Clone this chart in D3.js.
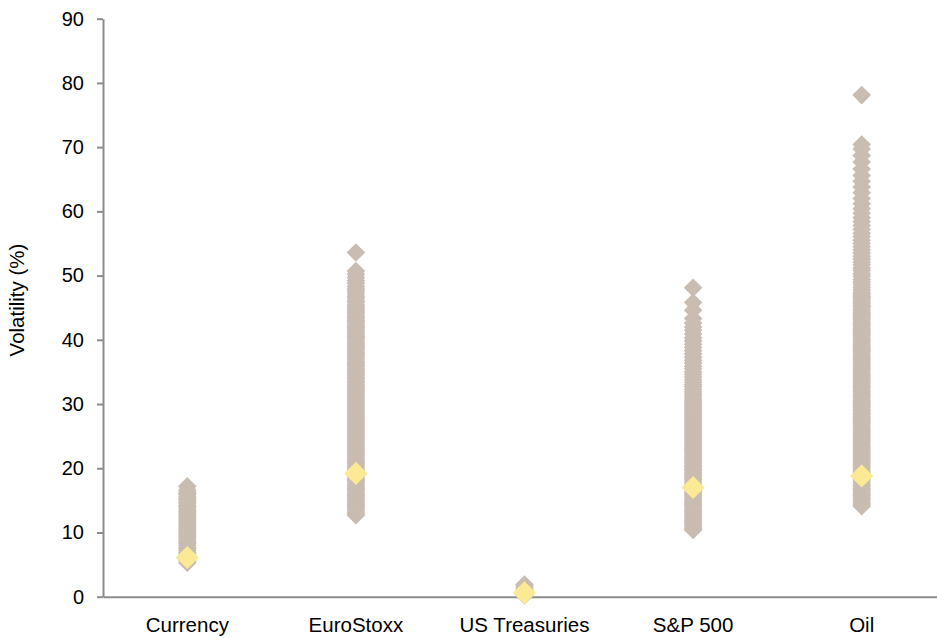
<!DOCTYPE html>
<html>
<head>
<meta charset="utf-8">
<script src="https://cdn.jsdelivr.net/npm/d3@7/dist/d3.min.js"></script>
<style>
  html, body { margin: 0; padding: 0; background: #fff; }
  svg { display: block; }
  text { font-family: "Liberation Sans", Arial, sans-serif; fill: #000; }
</style>
</head>
<body>
<svg id="chart" width="937" height="638"></svg>
<script>
const categories = ["Currency", "EuroStoxx", "US Treasuries", "S&P 500", "Oil"];
const yTicks = [0, 10, 20, 30, 40, 50, 60, 70, 80, 90];
const yLabel = "Volatility (%)";

// observed volatility readings per category (beige diamonds)
const currency = [5.3,5.6,5.8,6.1,6.4,6.6,6.9,7.2,7.5,7.7,8.0,8.3,8.5,8.8,9.1,9.4,9.6,9.9,10.2,10.4,10.7,11.0,11.3,11.5,11.8,12.1,12.3,12.6,12.9,13.2,13.4,13.7,14.0,14.2,14.5,14.8,15.1,15.3,15.6,15.9,16.1,16.3,16.6,17.2];
const euroStoxx = [12.7,12.9,13.2,13.5,13.8,14.1,14.3,14.6,14.9,15.2,15.5,15.7,16.0,16.3,16.6,16.8,17.1,17.4,17.7,18.0,18.2,18.5,18.8,19.1,19.4,19.6,19.9,20.2,20.5,20.8,21.0,21.3,21.6,21.9,22.1,22.4,22.7,23.0,23.3,23.5,23.8,24.1,24.4,24.7,24.9,25.2,25.5,25.8,26.1,26.3,26.6,26.9,27.2,27.4,27.7,28.0,28.3,28.6,28.8,29.1,29.4,29.7,30.0,30.2,30.5,30.8,31.1,31.3,31.6,31.9,32.2,32.5,32.7,33.0,33.3,33.6,33.9,34.1,34.4,34.7,35.0,35.2,35.5,35.8,36.1,36.4,36.6,36.9,37.2,37.5,37.8,38.0,38.3,38.6,38.9,39.1,39.4,39.7,40.0,40.3,40.5,40.8,41.1,41.4,41.7,41.9,42.2,42.5,42.8,43.0,43.3,43.6,43.9,44.2,44.5,44.8,45.1,45.4,45.8,46.1,46.5,46.8,47.2,47.6,47.9,48.3,48.8,49.2,49.7,50.2,50.7,53.6];
const usTreasuries = [0.2,0.5,0.8,1.1,1.4,1.7,1.9];
const sp500 = [10.4,10.6,10.9,11.2,11.5,11.8,12.0,12.3,12.6,12.9,13.2,13.4,13.7,14.0,14.3,14.6,14.8,15.1,15.4,15.7,16.0,16.2,16.5,16.8,17.1,17.4,17.6,17.9,18.2,18.5,18.8,19.0,19.3,19.6,19.9,20.2,20.4,20.7,21.0,21.3,21.6,21.8,22.1,22.4,22.7,23.0,23.2,23.5,23.8,24.1,24.4,24.6,24.9,25.2,25.5,25.8,26.0,26.3,26.6,26.9,27.2,27.4,27.7,28.0,28.3,28.6,28.8,29.1,29.4,29.7,30.0,30.3,30.6,30.9,31.3,31.6,31.9,32.3,32.7,33.0,33.4,33.8,34.2,34.6,35.0,35.5,35.9,36.4,36.8,37.3,37.8,38.3,38.8,39.3,39.8,40.3,40.9,41.5,42.0,42.6,43.3,44.6,45.8,48.1];
const oil = [14.1,14.4,14.6,14.9,15.2,15.5,15.8,16.0,16.3,16.6,16.9,17.2,17.4,17.7,18.0,18.3,18.6,18.8,19.1,19.4,19.7,20.0,20.2,20.5,20.8,21.1,21.4,21.6,21.9,22.2,22.5,22.8,23.0,23.3,23.6,23.9,24.2,24.4,24.7,25.0,25.3,25.6,25.8,26.1,26.4,26.7,27.0,27.2,27.5,27.8,28.1,28.4,28.6,28.9,29.2,29.5,29.8,30.0,30.3,30.6,30.9,31.2,31.4,31.7,32.0,32.3,32.6,32.8,33.1,33.4,33.7,34.0,34.2,34.5,34.8,35.1,35.4,35.6,35.9,36.2,36.5,36.8,37.0,37.3,37.6,37.9,38.2,38.4,38.7,39.0,39.3,39.6,39.8,40.1,40.4,40.7,41.0,41.2,41.5,41.8,42.1,42.4,42.6,42.9,43.2,43.5,43.8,44.0,44.3,44.6,44.9,45.2,45.4,45.7,46.0,46.3,46.6,46.8,47.1,47.4,47.8,48.2,48.6,49.0,49.4,49.9,50.3,50.8,51.2,51.7,52.1,52.6,53.0,53.5,54.0,54.5,55.0,55.5,56.1,56.6,57.2,57.8,58.4,59.0,59.7,60.4,61.2,62.0,62.9,63.8,64.7,65.6,66.6,67.7,68.7,69.7,70.4,78.1];
// average volatility per category (yellow diamonds)
const averages = [6.1, 19.2, 0.6, 17.0, 18.8];

const seriesByCategory = [currency, euroStoxx, usTreasuries, sp500, oil];

const svg = d3.select("#chart");
const margin = { left: 103, top: 18.7, bottom: 596.7, right: 946 };

const x = d3.scaleBand().domain(categories).range([margin.left, margin.right]).padding(0);
const y = d3.scaleLinear().domain([0, 90]).range([margin.bottom, margin.top]);

const axisColor = "#8c8c8c";

// y axis
const yAxis = svg.append("g")
  .attr("transform", `translate(${margin.left},0)`)
  .call(d3.axisLeft(y).tickValues(yTicks).tickSizeInner(6).tickSizeOuter(0).tickPadding(13));
yAxis.select(".domain").attr("stroke", axisColor).attr("stroke-width", 2);
yAxis.selectAll(".tick line").attr("stroke", axisColor).attr("stroke-width", 2);
yAxis.selectAll(".tick text").attr("font-size", 20).attr("fill", "#000")
  .style("font-family", "'Liberation Sans', Arial, sans-serif");

// x axis
const xAxis = svg.append("g")
  .attr("transform", `translate(0,${margin.bottom})`)
  .call(d3.axisBottom(x).tickSizeInner(0).tickSizeOuter(0).tickPadding(21));
xAxis.select(".domain").attr("stroke", axisColor).attr("stroke-width", 2);
xAxis.selectAll(".tick text").attr("font-size", 20.5).attr("fill", "#000")
  .style("font-family", "'Liberation Sans', Arial, sans-serif");

// y label
svg.append("text")
  .attr("transform", `translate(24,300) rotate(-90)`)
  .attr("text-anchor", "middle")
  .attr("font-size", 20.5)
  .text(yLabel);

const diamond = r => `M0,${-r}L${r},0L0,${r}L${-r},0Z`;

// observations
const points = [];
seriesByCategory.forEach((vals, i) => vals.forEach(v => points.push({ c: categories[i], v })));

svg.append("g").selectAll("path")
  .data(points)
  .join("path")
  .attr("d", diamond(9.3))
  .attr("transform", d => `translate(${x(d.c) + x.bandwidth() / 2},${y(d.v)})`)
  .attr("fill", "#c9bcb0");

// averages
svg.append("g").selectAll("path")
  .data(categories.map((c, i) => ({ c, v: averages[i] })))
  .join("path")
  .attr("d", diamond(11.6))
  .attr("transform", d => `translate(${x(d.c) + x.bandwidth() / 2},${y(d.v)})`)
  .attr("fill", "#fce993");
</script>
</body>
</html>
